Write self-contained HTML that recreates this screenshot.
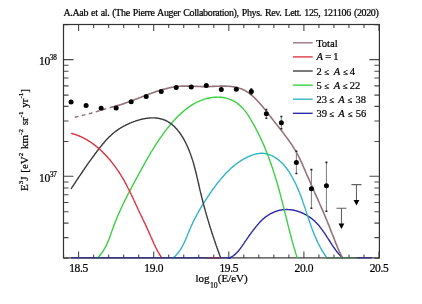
<!DOCTYPE html>
<html><head><meta charset="utf-8"><style>
html,body{margin:0;padding:0;background:#fff;width:422px;height:304px;overflow:hidden}
svg{display:block;font-family:"Liberation Serif",serif;fill:#000;will-change:transform}
text{stroke:#000;stroke-width:0.22px}
</style></head><body>
<svg width="422" height="304" viewBox="0 0 422 304">
<defs><clipPath id="c"><rect x="63.5" y="24.5" width="315.9" height="234.39999999999998"/></clipPath></defs>
<path d="M78.60,257.9 V251.40 M78.60,24.5 V31.00 M93.62,257.9 V254.40 M93.62,24.5 V28.00 M108.64,257.9 V254.40 M108.64,24.5 V28.00 M123.66,257.9 V254.40 M123.66,24.5 V28.00 M138.68,257.9 V254.40 M138.68,24.5 V28.00 M153.70,257.9 V251.40 M153.70,24.5 V31.00 M168.72,257.9 V254.40 M168.72,24.5 V28.00 M183.74,257.9 V254.40 M183.74,24.5 V28.00 M198.76,257.9 V254.40 M198.76,24.5 V28.00 M213.78,257.9 V254.40 M213.78,24.5 V28.00 M228.80,257.9 V251.40 M228.80,24.5 V31.00 M243.82,257.9 V254.40 M243.82,24.5 V28.00 M258.84,257.9 V254.40 M258.84,24.5 V28.00 M273.86,257.9 V254.40 M273.86,24.5 V28.00 M288.88,257.9 V254.40 M288.88,24.5 V28.00 M303.90,257.9 V251.40 M303.90,24.5 V31.00 M318.92,257.9 V254.40 M318.92,24.5 V28.00 M333.94,257.9 V254.40 M333.94,24.5 V28.00 M348.96,257.9 V254.40 M348.96,24.5 V28.00 M363.98,257.9 V254.40 M363.98,24.5 V28.00 M379.00,257.9 V251.40 M379.00,24.5 V31.00 M63.58,257.9 V254.40 M63.58,24.5 V28.00 M63.5,258.22 H68.5 M379.4,258.22 H374.4 M63.5,237.67 H68.5 M379.4,237.67 H374.4 M63.5,223.09 H68.5 M379.4,223.09 H374.4 M63.5,211.78 H68.5 M379.4,211.78 H374.4 M63.5,202.54 H68.5 M379.4,202.54 H374.4 M63.5,194.73 H68.5 M379.4,194.73 H374.4 M63.5,187.96 H68.5 M379.4,187.96 H374.4 M63.5,181.99 H68.5 M379.4,181.99 H374.4 M63.5,176.30 H73.5 M379.4,176.30 H369.4 M63.5,141.52 H68.5 M379.4,141.52 H374.4 M63.5,120.97 H68.5 M379.4,120.97 H374.4 M63.5,106.39 H68.5 M379.4,106.39 H374.4 M63.5,95.08 H68.5 M379.4,95.08 H374.4 M63.5,85.84 H68.5 M379.4,85.84 H374.4 M63.5,78.03 H68.5 M379.4,78.03 H374.4 M63.5,71.26 H68.5 M379.4,71.26 H374.4 M63.5,65.29 H68.5 M379.4,65.29 H374.4 M63.5,59.60 H73.5 M379.4,59.60 H369.4 M63.5,24.82 H68.5 M379.4,24.82 H374.4" stroke="#4a4a4a" stroke-width="1.1" fill="none"/>
<rect x="63.5" y="24.5" width="315.9" height="233.39999999999998" fill="none" stroke="#333333" stroke-width="1.2"/>
<path d="M228.2,258.2 L228.6,258.2 L228.9,258.1 L229.3,258.0 L229.7,257.8 L230.0,257.7 L230.4,257.5 L230.7,257.3 L231.0,257.2 L231.4,257.0 L231.7,256.8 L232.0,256.6 L232.3,256.4 L232.7,256.2 L233.0,256.0 L233.3,255.8 L233.6,255.6 L233.9,255.3 L234.2,255.1 L234.5,254.9 L234.8,254.6 L235.0,254.4 L235.3,254.1 L235.6,253.9 L235.9,253.6 L236.2,253.3 L236.4,253.1 L236.7,252.8 L237.0,252.5 L237.2,252.2 L237.5,252.0 L237.7,251.7 L238.0,251.4 L238.3,251.1 L238.5,250.8 L238.8,250.5 L239.0,250.2 L239.2,249.9 L239.5,249.6 L239.7,249.3 L240.0,248.9 L240.2,248.6 L240.4,248.3 L240.7,248.0 L240.9,247.7 L241.1,247.3 L241.4,247.0 L241.6,246.7 L241.8,246.4 L242.1,246.0 L242.3,245.7 L242.5,245.4 L242.7,245.0 L243.0,244.7 L243.2,244.4 L243.4,244.1 L243.6,243.7 L243.9,243.4 L244.1,243.1 L244.3,242.7 L244.5,242.4 L244.8,242.1 L245.0,241.7 L245.2,241.4 L245.4,241.1 L245.7,240.7 L245.9,240.4 L246.1,240.1 L246.3,239.8 L246.6,239.4 L246.8,239.1 L247.0,238.8 L247.2,238.5 L247.5,238.1 L247.7,237.8 L247.9,237.5 L248.1,237.2 L248.4,236.8 L248.6,236.5 L248.8,236.2 L249.0,235.9 L249.3,235.6 L249.5,235.2 L249.7,234.9 L250.0,234.6 L250.2,234.3 L250.4,234.0 L250.6,233.7 L250.9,233.3 L251.1,233.0 L251.3,232.7 L251.6,232.4 L251.8,232.1 L252.0,231.8 L252.3,231.5 L252.5,231.1 L252.7,230.8 L253.0,230.5 L253.2,230.2 L253.4,229.9 L253.7,229.6 L253.9,229.3 L254.2,229.0 L254.4,228.7 L254.6,228.4 L254.9,228.1 L255.1,227.8 L255.4,227.5 L255.6,227.2 L255.8,226.9 L256.1,226.6 L256.3,226.3 L256.6,226.0 L256.8,225.7 L257.1,225.4 L257.3,225.1 L257.6,224.8 L257.8,224.5 L258.1,224.2 L258.3,223.9 L258.6,223.6 L258.8,223.3 L259.1,223.0 L259.4,222.7 L259.6,222.4 L259.9,222.2 L260.1,221.9 L260.4,221.6 L260.7,221.3 L261.0,221.1 L261.2,220.8 L261.5,220.5 L261.8,220.2 L262.1,220.0 L262.3,219.7 L262.6,219.4 L262.9,219.2 L263.2,218.9 L263.5,218.7 L263.8,218.4 L264.1,218.2 L264.4,217.9 L264.7,217.7 L265.0,217.4 L265.3,217.2 L265.6,216.9 L265.9,216.7 L266.3,216.5 L266.6,216.2 L266.9,216.0 L267.2,215.8 L267.6,215.6 L267.9,215.4 L268.2,215.1 L268.6,214.9 L268.9,214.7 L269.2,214.5 L269.6,214.3 L269.9,214.1 L270.3,213.9 L270.6,213.7 L271.0,213.5 L271.3,213.4 L271.7,213.2 L272.0,213.0 L272.4,212.8 L272.8,212.7 L273.1,212.5 L273.5,212.3 L273.8,212.2 L274.2,212.0 L274.6,211.9 L274.9,211.7 L275.3,211.6 L275.7,211.4 L276.1,211.3 L276.4,211.2 L276.8,211.1 L277.2,210.9 L277.6,210.8 L277.9,210.7 L278.3,210.6 L278.7,210.5 L279.1,210.4 L279.5,210.3 L279.9,210.2 L280.2,210.2 L280.6,210.1 L281.0,210.0 L281.4,210.0 L281.8,209.9 L282.2,209.8 L282.6,209.8 L282.9,209.7 L283.3,209.7 L283.7,209.7 L284.1,209.6 L284.5,209.6 L284.9,209.6 L285.3,209.6 L285.7,209.5 L286.0,209.5 L286.4,209.5 L286.8,209.5 L287.2,209.5 L287.6,209.5 L288.0,209.6 L288.4,209.6 L288.8,209.6 L289.2,209.6 L289.5,209.6 L289.9,209.7 L290.3,209.7 L290.7,209.8 L291.1,209.8 L291.5,209.9 L291.9,209.9 L292.3,210.0 L292.6,210.0 L293.0,210.1 L293.4,210.2 L293.8,210.3 L294.2,210.3 L294.6,210.4 L295.0,210.5 L295.3,210.6 L295.7,210.7 L296.1,210.8 L296.5,210.9 L296.9,211.0 L297.2,211.1 L297.6,211.2 L298.0,211.4 L298.4,211.5 L298.7,211.6 L299.1,211.7 L299.5,211.9 L299.9,212.0 L300.2,212.1 L300.6,212.3 L301.0,212.4 L301.3,212.6 L301.7,212.7 L302.1,212.9 L302.4,213.1 L302.8,213.2 L303.2,213.4 L303.5,213.6 L303.9,213.7 L304.2,213.9 L304.6,214.1 L304.9,214.3 L305.3,214.5 L305.6,214.7 L306.0,214.8 L306.3,215.0 L306.7,215.2 L307.0,215.4 L307.4,215.7 L307.7,215.9 L308.0,216.1 L308.4,216.3 L308.7,216.5 L309.1,216.7 L309.4,216.9 L309.7,217.2 L310.0,217.4 L310.4,217.6 L310.7,217.9 L311.0,218.1 L311.3,218.3 L311.6,218.6 L312.0,218.8 L312.3,219.1 L312.6,219.3 L312.9,219.6 L313.2,219.8 L313.5,220.1 L313.8,220.4 L314.1,220.6 L314.4,220.9 L314.7,221.2 L315.0,221.4 L315.2,221.7 L315.5,222.0 L315.8,222.3 L316.1,222.5 L316.4,222.8 L316.6,223.1 L316.9,223.4 L317.2,223.7 L317.5,224.0 L317.7,224.3 L318.0,224.6 L318.2,224.8 L318.5,225.1 L318.8,225.4 L319.0,225.7 L319.3,226.0 L319.5,226.4 L319.8,226.7 L320.0,227.0 L320.3,227.3 L320.5,227.6 L320.8,227.9 L321.0,228.2 L321.2,228.5 L321.5,228.8 L321.7,229.2 L322.0,229.5 L322.2,229.8 L322.4,230.1 L322.7,230.5 L322.9,230.8 L323.1,231.1 L323.3,231.4 L323.6,231.8 L323.8,232.1 L324.0,232.4 L324.2,232.7 L324.5,233.1 L324.7,233.4 L324.9,233.7 L325.1,234.1 L325.4,234.4 L325.6,234.7 L325.8,235.1 L326.0,235.4 L326.2,235.7 L326.4,236.1 L326.7,236.4 L326.9,236.8 L327.1,237.1 L327.3,237.4 L327.5,237.8 L327.7,238.1 L328.0,238.4 L328.2,238.8 L328.4,239.1 L328.6,239.5 L328.8,239.8 L329.0,240.1 L329.2,240.5 L329.4,240.8 L329.7,241.1 L329.9,241.5 L330.1,241.8 L330.3,242.2 L330.5,242.5 L330.7,242.8 L330.9,243.2 L331.2,243.5 L331.4,243.8 L331.6,244.2 L331.8,244.5 L332.0,244.8 L332.3,245.2 L332.5,245.5 L332.7,245.8 L332.9,246.1 L333.1,246.5 L333.4,246.8 L333.6,247.1 L333.8,247.5 L334.0,247.8 L334.3,248.1 L334.5,248.4 L334.7,248.7 L334.9,249.1 L335.2,249.4 L335.4,249.7 L335.6,250.0 L335.9,250.3 L336.1,250.6 L336.3,251.0 L336.6,251.3 L336.8,251.6 L337.1,251.9 L337.3,252.2 L337.5,252.5 L337.8,252.8 L338.0,253.1 L338.3,253.4 L338.5,253.7 L338.8,254.0 L339.1,254.3 L339.3,254.6 L339.6,254.9 L339.8,255.2 L340.1,255.4 L340.4,255.7 L340.6,256.0 L340.9,256.3 L341.2,256.6 L341.4,256.8 L341.7,257.1 L342.0,257.4 L342.3,257.6 L342.6,257.9 L342.9,258.2" fill="none" stroke="#2c2ca8" stroke-width="1.4" stroke-linejoin="round"/>
<path d="M172.3,258.2 L172.9,258.0 L173.4,257.6 L173.9,257.2 L174.4,256.8 L174.9,256.4 L175.3,255.9 L175.8,255.5 L176.2,255.0 L176.7,254.5 L177.1,254.0 L177.5,253.5 L178.0,253.0 L178.4,252.5 L178.8,252.0 L179.1,251.4 L179.5,250.9 L179.9,250.4 L180.3,249.8 L180.6,249.2 L181.0,248.7 L181.3,248.1 L181.7,247.5 L182.0,246.9 L182.3,246.3 L182.6,245.7 L183.0,245.1 L183.3,244.5 L183.6,243.9 L183.9,243.3 L184.2,242.6 L184.5,242.0 L184.7,241.4 L185.0,240.7 L185.3,240.1 L185.6,239.5 L185.9,238.8 L186.1,238.2 L186.4,237.5 L186.7,236.9 L187.0,236.2 L187.2,235.6 L187.5,234.9 L187.8,234.3 L188.0,233.6 L188.3,233.0 L188.6,232.3 L188.8,231.7 L189.1,231.0 L189.4,230.4 L189.6,229.7 L189.9,229.1 L190.2,228.5 L190.5,227.8 L190.7,227.2 L191.0,226.6 L191.3,225.9 L191.6,225.3 L191.9,224.7 L192.2,224.1 L192.5,223.5 L192.7,222.8 L193.0,222.2 L193.3,221.6 L193.6,221.0 L193.9,220.4 L194.2,219.8 L194.5,219.2 L194.8,218.6 L195.2,218.0 L195.5,217.4 L195.8,216.8 L196.1,216.2 L196.4,215.6 L196.7,215.0 L197.0,214.4 L197.4,213.8 L197.7,213.3 L198.0,212.7 L198.3,212.1 L198.7,211.5 L199.0,210.9 L199.3,210.3 L199.7,209.8 L200.0,209.2 L200.3,208.6 L200.7,208.0 L201.0,207.5 L201.4,206.9 L201.7,206.3 L202.0,205.7 L202.4,205.2 L202.7,204.6 L203.1,204.0 L203.5,203.5 L203.8,202.9 L204.2,202.3 L204.5,201.8 L204.9,201.2 L205.3,200.6 L205.6,200.1 L206.0,199.5 L206.4,198.9 L206.7,198.4 L207.1,197.8 L207.5,197.2 L207.9,196.7 L208.2,196.1 L208.6,195.5 L209.0,195.0 L209.4,194.4 L209.8,193.8 L210.2,193.3 L210.5,192.7 L210.9,192.1 L211.3,191.6 L211.7,191.0 L212.1,190.4 L212.5,189.9 L212.9,189.3 L213.3,188.7 L213.7,188.2 L214.2,187.6 L214.6,187.0 L215.0,186.5 L215.4,185.9 L215.8,185.4 L216.2,184.8 L216.6,184.3 L217.1,183.7 L217.5,183.2 L217.9,182.6 L218.4,182.1 L218.8,181.5 L219.2,181.0 L219.7,180.4 L220.1,179.9 L220.6,179.4 L221.0,178.8 L221.5,178.3 L221.9,177.8 L222.4,177.2 L222.8,176.7 L223.3,176.2 L223.7,175.7 L224.2,175.2 L224.7,174.6 L225.2,174.1 L225.6,173.6 L226.1,173.1 L226.6,172.6 L227.1,172.1 L227.6,171.6 L228.0,171.1 L228.5,170.7 L229.0,170.2 L229.5,169.7 L230.0,169.2 L230.5,168.8 L231.0,168.3 L231.6,167.8 L232.1,167.4 L232.6,166.9 L233.1,166.5 L233.6,166.1 L234.2,165.6 L234.7,165.2 L235.2,164.8 L235.8,164.3 L236.3,163.9 L236.8,163.5 L237.4,163.1 L237.9,162.7 L238.5,162.3 L239.1,161.9 L239.6,161.6 L240.2,161.2 L240.8,160.8 L241.3,160.4 L241.9,160.1 L242.5,159.7 L243.1,159.4 L243.7,159.1 L244.3,158.7 L244.9,158.4 L245.5,158.1 L246.1,157.8 L246.7,157.5 L247.3,157.2 L247.9,156.9 L248.5,156.6 L249.1,156.3 L249.8,156.0 L250.4,155.8 L251.0,155.5 L251.7,155.3 L252.3,155.1 L252.9,154.8 L253.6,154.6 L254.2,154.4 L254.9,154.3 L255.5,154.1 L256.2,153.9 L256.8,153.8 L257.5,153.7 L258.1,153.6 L258.8,153.5 L259.5,153.4 L260.1,153.4 L260.8,153.3 L261.4,153.3 L262.1,153.3 L262.7,153.3 L263.4,153.4 L264.0,153.4 L264.7,153.5 L265.3,153.6 L266.0,153.7 L266.6,153.9 L267.3,154.0 L267.9,154.2 L268.5,154.4 L269.2,154.6 L269.8,154.9 L270.4,155.1 L271.1,155.4 L271.7,155.6 L272.3,155.9 L272.9,156.2 L273.5,156.6 L274.1,156.9 L274.6,157.2 L275.2,157.6 L275.8,158.0 L276.4,158.3 L276.9,158.7 L277.5,159.1 L278.0,159.5 L278.5,159.9 L279.1,160.4 L279.6,160.8 L280.1,161.3 L280.6,161.7 L281.1,162.2 L281.6,162.6 L282.1,163.1 L282.5,163.6 L283.0,164.1 L283.5,164.6 L283.9,165.1 L284.4,165.6 L284.8,166.2 L285.3,166.7 L285.7,167.2 L286.1,167.8 L286.6,168.3 L287.0,168.9 L287.4,169.5 L287.8,170.0 L288.2,170.6 L288.6,171.2 L289.0,171.7 L289.4,172.3 L289.8,172.9 L290.1,173.5 L290.5,174.1 L290.9,174.7 L291.2,175.3 L291.6,175.9 L291.9,176.5 L292.3,177.2 L292.6,177.8 L292.9,178.4 L293.3,179.0 L293.6,179.6 L293.9,180.3 L294.2,180.9 L294.6,181.5 L294.9,182.1 L295.2,182.8 L295.5,183.4 L295.8,184.0 L296.1,184.7 L296.4,185.3 L296.6,185.9 L296.9,186.6 L297.2,187.2 L297.5,187.8 L297.8,188.5 L298.0,189.1 L298.3,189.7 L298.6,190.4 L298.8,191.0 L299.1,191.6 L299.3,192.3 L299.6,192.9 L299.9,193.5 L300.1,194.2 L300.3,194.8 L300.6,195.5 L300.8,196.1 L301.1,196.7 L301.3,197.4 L301.5,198.0 L301.8,198.7 L302.0,199.3 L302.2,199.9 L302.5,200.6 L302.7,201.2 L302.9,201.9 L303.1,202.5 L303.4,203.1 L303.6,203.8 L303.8,204.4 L304.0,205.1 L304.2,205.7 L304.5,206.4 L304.7,207.0 L304.9,207.6 L305.1,208.3 L305.3,208.9 L305.5,209.6 L305.7,210.2 L305.9,210.8 L306.2,211.5 L306.4,212.1 L306.6,212.8 L306.8,213.4 L307.0,214.1 L307.2,214.7 L307.4,215.3 L307.6,216.0 L307.8,216.6 L308.1,217.3 L308.3,217.9 L308.5,218.5 L308.7,219.2 L308.9,219.8 L309.1,220.5 L309.3,221.1 L309.6,221.7 L309.8,222.4 L310.0,223.0 L310.2,223.6 L310.4,224.3 L310.7,224.9 L310.9,225.6 L311.1,226.2 L311.3,226.8 L311.6,227.5 L311.8,228.1 L312.0,228.7 L312.3,229.4 L312.5,230.0 L312.8,230.6 L313.0,231.2 L313.2,231.9 L313.5,232.5 L313.7,233.1 L314.0,233.8 L314.2,234.4 L314.5,235.0 L314.8,235.6 L315.0,236.3 L315.3,236.9 L315.6,237.5 L315.8,238.1 L316.1,238.8 L316.4,239.4 L316.7,240.0 L316.9,240.6 L317.2,241.2 L317.5,241.8 L317.8,242.5 L318.1,243.1 L318.4,243.7 L318.7,244.3 L319.0,244.9 L319.4,245.5 L319.7,246.1 L320.0,246.7 L320.3,247.3 L320.7,248.0 L321.0,248.6 L321.3,249.2 L321.7,249.8 L322.0,250.4 L322.4,251.0 L322.8,251.6 L323.1,252.2 L323.5,252.8 L323.9,253.4 L324.2,254.0 L324.6,254.5 L325.0,255.1 L325.4,255.7 L325.8,256.3 L326.2,256.9 L326.6,257.5 L327.1,258.1" fill="none" stroke="#30b4c4" stroke-width="1.4" stroke-linejoin="round"/>
<path d="M96.3,258.2 L97.1,257.9 L97.9,257.3 L98.6,256.7 L99.3,256.0 L99.9,255.3 L100.6,254.5 L101.2,253.8 L101.8,253.0 L102.4,252.2 L102.9,251.4 L103.4,250.6 L103.9,249.7 L104.4,248.9 L104.9,248.0 L105.4,247.2 L105.8,246.3 L106.3,245.4 L106.7,244.5 L107.1,243.6 L107.5,242.7 L107.9,241.8 L108.3,240.9 L108.7,239.9 L109.0,239.0 L109.4,238.1 L109.8,237.1 L110.1,236.2 L110.5,235.2 L110.8,234.3 L111.1,233.3 L111.5,232.3 L111.8,231.4 L112.1,230.4 L112.5,229.5 L112.8,228.5 L113.2,227.5 L113.5,226.6 L113.9,225.6 L114.2,224.7 L114.6,223.7 L114.9,222.8 L115.3,221.9 L115.7,220.9 L116.0,220.0 L116.4,219.1 L116.8,218.1 L117.2,217.2 L117.6,216.3 L118.0,215.3 L118.4,214.4 L118.8,213.5 L119.2,212.6 L119.6,211.7 L120.0,210.8 L120.4,209.8 L120.8,208.9 L121.2,208.0 L121.7,207.1 L122.1,206.2 L122.5,205.3 L122.9,204.4 L123.4,203.5 L123.8,202.6 L124.3,201.7 L124.7,200.8 L125.1,199.9 L125.6,199.0 L126.0,198.2 L126.5,197.3 L126.9,196.4 L127.4,195.5 L127.8,194.6 L128.3,193.7 L128.8,192.8 L129.2,191.9 L129.7,191.1 L130.1,190.2 L130.6,189.3 L131.1,188.4 L131.5,187.5 L132.0,186.7 L132.5,185.8 L133.0,184.9 L133.4,184.0 L133.9,183.1 L134.4,182.3 L134.8,181.4 L135.3,180.5 L135.8,179.6 L136.3,178.7 L136.7,177.9 L137.2,177.0 L137.7,176.1 L138.2,175.2 L138.6,174.3 L139.1,173.5 L139.6,172.6 L140.1,171.7 L140.6,170.8 L141.0,169.9 L141.5,169.1 L142.0,168.2 L142.5,167.3 L143.0,166.4 L143.5,165.6 L143.9,164.7 L144.4,163.8 L144.9,162.9 L145.4,162.1 L145.9,161.2 L146.4,160.3 L146.9,159.4 L147.4,158.6 L147.9,157.7 L148.4,156.8 L148.9,156.0 L149.4,155.1 L149.9,154.3 L150.4,153.4 L150.9,152.5 L151.4,151.7 L152.0,150.8 L152.5,150.0 L153.0,149.1 L153.5,148.3 L154.1,147.4 L154.6,146.6 L155.1,145.7 L155.7,144.9 L156.2,144.0 L156.8,143.2 L157.3,142.4 L157.9,141.5 L158.4,140.7 L159.0,139.9 L159.5,139.0 L160.1,138.2 L160.7,137.4 L161.2,136.6 L161.8,135.8 L162.4,134.9 L163.0,134.1 L163.6,133.3 L164.2,132.5 L164.8,131.7 L165.4,130.9 L166.0,130.1 L166.6,129.3 L167.2,128.6 L167.8,127.8 L168.5,127.0 L169.1,126.2 L169.7,125.4 L170.4,124.7 L171.0,123.9 L171.7,123.2 L172.3,122.4 L173.0,121.7 L173.7,120.9 L174.4,120.2 L175.0,119.4 L175.7,118.7 L176.4,118.0 L177.1,117.3 L177.8,116.5 L178.5,115.8 L179.2,115.1 L180.0,114.4 L180.7,113.7 L181.4,113.1 L182.2,112.4 L182.9,111.7 L183.7,111.1 L184.5,110.4 L185.2,109.8 L186.0,109.2 L186.8,108.6 L187.6,108.0 L188.4,107.4 L189.2,106.8 L190.0,106.2 L190.9,105.7 L191.7,105.2 L192.5,104.6 L193.4,104.1 L194.3,103.6 L195.1,103.1 L196.0,102.7 L196.9,102.2 L197.8,101.8 L198.7,101.4 L199.6,101.0 L200.6,100.6 L201.5,100.2 L202.5,99.9 L203.4,99.5 L204.4,99.2 L205.4,98.9 L206.3,98.7 L207.3,98.4 L208.3,98.2 L209.3,98.0 L210.3,97.8 L211.3,97.6 L212.3,97.5 L213.3,97.4 L214.3,97.3 L215.3,97.2 L216.3,97.2 L217.3,97.1 L218.3,97.1 L219.3,97.2 L220.3,97.2 L221.3,97.3 L222.3,97.4 L223.2,97.5 L224.2,97.7 L225.2,97.9 L226.1,98.1 L227.1,98.4 L228.0,98.6 L228.9,98.9 L229.9,99.3 L230.8,99.6 L231.7,100.0 L232.6,100.4 L233.4,100.9 L234.3,101.4 L235.1,101.9 L235.9,102.4 L236.8,102.9 L237.6,103.5 L238.3,104.1 L239.1,104.7 L239.8,105.4 L240.6,106.0 L241.3,106.7 L242.0,107.4 L242.6,108.1 L243.3,108.8 L243.9,109.6 L244.6,110.4 L245.2,111.1 L245.8,111.9 L246.4,112.7 L247.0,113.6 L247.6,114.4 L248.1,115.2 L248.7,116.1 L249.2,116.9 L249.7,117.8 L250.3,118.7 L250.8,119.5 L251.3,120.4 L251.8,121.3 L252.3,122.2 L252.8,123.0 L253.3,123.9 L253.8,124.8 L254.3,125.7 L254.8,126.6 L255.3,127.5 L255.8,128.4 L256.2,129.3 L256.7,130.2 L257.1,131.1 L257.6,131.9 L258.1,132.8 L258.5,133.8 L258.9,134.7 L259.4,135.6 L259.8,136.5 L260.3,137.4 L260.7,138.3 L261.1,139.2 L261.5,140.1 L261.9,141.0 L262.4,141.9 L262.8,142.9 L263.2,143.8 L263.6,144.7 L264.0,145.6 L264.4,146.5 L264.7,147.5 L265.1,148.4 L265.5,149.3 L265.9,150.2 L266.3,151.2 L266.6,152.1 L267.0,153.0 L267.4,154.0 L267.7,154.9 L268.1,155.8 L268.4,156.8 L268.8,157.7 L269.1,158.7 L269.5,159.6 L269.8,160.5 L270.2,161.5 L270.5,162.4 L270.8,163.4 L271.2,164.3 L271.5,165.3 L271.8,166.2 L272.2,167.2 L272.5,168.1 L272.8,169.1 L273.1,170.0 L273.4,171.0 L273.7,171.9 L274.0,172.9 L274.3,173.8 L274.6,174.8 L274.9,175.7 L275.2,176.7 L275.5,177.6 L275.8,178.6 L276.1,179.6 L276.4,180.5 L276.7,181.5 L277.0,182.4 L277.2,183.4 L277.5,184.4 L277.8,185.3 L278.1,186.3 L278.3,187.3 L278.6,188.2 L278.9,189.2 L279.2,190.2 L279.4,191.1 L279.7,192.1 L280.0,193.1 L280.2,194.0 L280.5,195.0 L280.7,196.0 L281.0,196.9 L281.2,197.9 L281.5,198.9 L281.7,199.9 L282.0,200.8 L282.2,201.8 L282.5,202.8 L282.7,203.7 L283.0,204.7 L283.2,205.7 L283.5,206.7 L283.7,207.6 L284.0,208.6 L284.2,209.6 L284.4,210.6 L284.7,211.5 L284.9,212.5 L285.2,213.5 L285.4,214.4 L285.7,215.4 L285.9,216.4 L286.1,217.4 L286.4,218.3 L286.6,219.3 L286.9,220.3 L287.1,221.3 L287.3,222.2 L287.6,223.2 L287.8,224.2 L288.1,225.2 L288.3,226.1 L288.5,227.1 L288.8,228.1 L289.0,229.0 L289.3,230.0 L289.5,231.0 L289.8,232.0 L290.0,232.9 L290.3,233.9 L290.5,234.9 L290.8,235.8 L291.1,236.8 L291.3,237.8 L291.6,238.7 L291.8,239.7 L292.1,240.7 L292.4,241.6 L292.6,242.6 L292.9,243.6 L293.2,244.5 L293.4,245.5 L293.7,246.4 L294.0,247.4 L294.3,248.4 L294.6,249.3 L294.9,250.3 L295.2,251.2 L295.4,252.2 L295.7,253.2 L296.0,254.1 L296.3,255.1 L296.6,256.0 L297.0,257.0 L297.3,257.9" fill="none" stroke="#38d040" stroke-width="1.4" stroke-linejoin="round"/>
<path d="M71.0,188.9 L71.4,188.3 L71.8,187.7 L72.1,187.2 L72.5,186.6 L72.9,186.0 L73.3,185.5 L73.7,184.9 L74.0,184.3 L74.4,183.7 L74.8,183.2 L75.2,182.6 L75.6,182.0 L75.9,181.4 L76.3,180.9 L76.7,180.3 L77.1,179.7 L77.5,179.1 L77.9,178.5 L78.3,178.0 L78.6,177.4 L79.0,176.8 L79.4,176.2 L79.8,175.6 L80.2,175.1 L80.6,174.5 L81.0,173.9 L81.4,173.3 L81.8,172.7 L82.2,172.2 L82.5,171.6 L82.9,171.0 L83.3,170.4 L83.7,169.9 L84.1,169.3 L84.5,168.7 L84.9,168.1 L85.3,167.5 L85.7,167.0 L86.1,166.4 L86.5,165.8 L86.9,165.2 L87.3,164.7 L87.7,164.1 L88.1,163.5 L88.5,162.9 L88.9,162.4 L89.3,161.8 L89.7,161.2 L90.2,160.6 L90.6,160.1 L91.0,159.5 L91.4,158.9 L91.8,158.4 L92.2,157.8 L92.6,157.2 L93.0,156.7 L93.5,156.1 L93.9,155.5 L94.3,155.0 L94.7,154.4 L95.1,153.8 L95.5,153.3 L96.0,152.7 L96.4,152.2 L96.8,151.6 L97.2,151.0 L97.7,150.5 L98.1,149.9 L98.5,149.4 L98.9,148.8 L99.4,148.3 L99.8,147.7 L100.2,147.2 L100.7,146.6 L101.1,146.1 L101.5,145.6 L102.0,145.0 L102.4,144.5 L102.8,144.0 L103.3,143.4 L103.7,142.9 L104.2,142.4 L104.6,141.8 L105.1,141.3 L105.5,140.8 L106.0,140.3 L106.5,139.8 L106.9,139.3 L107.4,138.8 L107.9,138.3 L108.4,137.8 L108.8,137.3 L109.3,136.8 L109.8,136.4 L110.3,135.9 L110.8,135.4 L111.3,135.0 L111.8,134.5 L112.3,134.1 L112.8,133.6 L113.3,133.2 L113.9,132.7 L114.4,132.3 L114.9,131.9 L115.5,131.5 L116.0,131.1 L116.6,130.7 L117.1,130.3 L117.7,129.9 L118.2,129.5 L118.8,129.1 L119.4,128.7 L120.0,128.4 L120.5,128.0 L121.1,127.6 L121.7,127.3 L122.3,126.9 L122.9,126.6 L123.5,126.3 L124.1,125.9 L124.8,125.6 L125.4,125.3 L126.0,125.0 L126.6,124.7 L127.3,124.4 L127.9,124.1 L128.5,123.8 L129.2,123.5 L129.8,123.2 L130.5,122.9 L131.2,122.7 L131.8,122.4 L132.5,122.1 L133.2,121.9 L133.8,121.6 L134.5,121.4 L135.2,121.2 L135.9,120.9 L136.5,120.7 L137.2,120.5 L137.9,120.3 L138.6,120.1 L139.3,119.9 L140.0,119.7 L140.7,119.5 L141.4,119.3 L142.1,119.2 L142.8,119.0 L143.5,118.9 L144.2,118.7 L144.9,118.6 L145.6,118.5 L146.3,118.4 L147.0,118.3 L147.7,118.2 L148.4,118.1 L149.1,118.0 L149.8,118.0 L150.5,117.9 L151.2,117.9 L151.9,117.9 L152.6,117.9 L153.3,117.9 L153.9,117.9 L154.6,117.9 L155.3,118.0 L156.0,118.0 L156.7,118.1 L157.3,118.2 L158.0,118.3 L158.7,118.4 L159.3,118.5 L160.0,118.7 L160.6,118.8 L161.3,119.0 L161.9,119.1 L162.6,119.3 L163.2,119.5 L163.8,119.8 L164.4,120.0 L165.0,120.2 L165.6,120.5 L166.2,120.8 L166.8,121.1 L167.4,121.4 L168.0,121.7 L168.5,122.1 L169.1,122.4 L169.6,122.8 L170.2,123.1 L170.7,123.5 L171.2,123.9 L171.8,124.3 L172.3,124.8 L172.8,125.2 L173.3,125.6 L173.8,126.1 L174.3,126.5 L174.8,127.0 L175.3,127.5 L175.7,128.0 L176.2,128.5 L176.7,129.0 L177.1,129.5 L177.6,130.1 L178.0,130.6 L178.4,131.2 L178.9,131.7 L179.3,132.3 L179.7,132.8 L180.1,133.4 L180.5,134.0 L180.9,134.6 L181.3,135.2 L181.7,135.8 L182.1,136.4 L182.5,137.0 L182.9,137.6 L183.2,138.2 L183.6,138.9 L183.9,139.5 L184.3,140.1 L184.6,140.8 L185.0,141.4 L185.3,142.0 L185.6,142.7 L186.0,143.3 L186.3,144.0 L186.6,144.6 L186.9,145.3 L187.2,145.9 L187.5,146.6 L187.8,147.3 L188.1,147.9 L188.3,148.6 L188.6,149.2 L188.9,149.9 L189.2,150.5 L189.4,151.2 L189.7,151.9 L189.9,152.5 L190.2,153.2 L190.4,153.8 L190.7,154.5 L190.9,155.2 L191.1,155.8 L191.4,156.5 L191.6,157.2 L191.8,157.8 L192.0,158.5 L192.2,159.2 L192.5,159.8 L192.7,160.5 L192.9,161.1 L193.1,161.8 L193.3,162.5 L193.5,163.1 L193.7,163.8 L193.8,164.5 L194.0,165.2 L194.2,165.8 L194.4,166.5 L194.6,167.2 L194.8,167.8 L194.9,168.5 L195.1,169.2 L195.3,169.8 L195.4,170.5 L195.6,171.2 L195.8,171.9 L195.9,172.5 L196.1,173.2 L196.3,173.9 L196.4,174.5 L196.6,175.2 L196.8,175.9 L196.9,176.6 L197.1,177.2 L197.2,177.9 L197.4,178.6 L197.5,179.3 L197.7,179.9 L197.8,180.6 L198.0,181.3 L198.1,181.9 L198.3,182.6 L198.5,183.3 L198.6,184.0 L198.8,184.6 L198.9,185.3 L199.1,186.0 L199.2,186.7 L199.4,187.3 L199.5,188.0 L199.7,188.7 L199.8,189.4 L200.0,190.0 L200.2,190.7 L200.3,191.4 L200.5,192.1 L200.6,192.7 L200.8,193.4 L201.0,194.1 L201.1,194.8 L201.3,195.4 L201.5,196.1 L201.6,196.8 L201.8,197.5 L202.0,198.1 L202.1,198.8 L202.3,199.5 L202.5,200.2 L202.6,200.8 L202.8,201.5 L203.0,202.2 L203.2,202.9 L203.4,203.5 L203.5,204.2 L203.7,204.9 L203.9,205.5 L204.1,206.2 L204.3,206.9 L204.4,207.6 L204.6,208.2 L204.8,208.9 L205.0,209.6 L205.2,210.3 L205.4,210.9 L205.5,211.6 L205.7,212.3 L205.9,212.9 L206.1,213.6 L206.3,214.3 L206.5,215.0 L206.7,215.6 L206.9,216.3 L207.1,217.0 L207.3,217.6 L207.5,218.3 L207.7,219.0 L207.9,219.6 L208.1,220.3 L208.3,221.0 L208.5,221.6 L208.7,222.3 L208.9,223.0 L209.1,223.7 L209.3,224.3 L209.5,225.0 L209.7,225.7 L209.9,226.3 L210.1,227.0 L210.3,227.7 L210.5,228.3 L210.7,229.0 L211.0,229.7 L211.2,230.3 L211.4,231.0 L211.6,231.6 L211.8,232.3 L212.0,233.0 L212.2,233.6 L212.5,234.3 L212.7,235.0 L212.9,235.6 L213.1,236.3 L213.3,237.0 L213.5,237.6 L213.8,238.3 L214.0,238.9 L214.2,239.6 L214.4,240.3 L214.7,240.9 L214.9,241.6 L215.1,242.2 L215.3,242.9 L215.6,243.5 L215.8,244.2 L216.0,244.9 L216.2,245.5 L216.5,246.2 L216.7,246.8 L216.9,247.5 L217.2,248.1 L217.4,248.8 L217.6,249.5 L217.8,250.1 L218.1,250.8 L218.3,251.4 L218.6,252.1 L218.8,252.7 L219.0,253.4 L219.3,254.0 L219.5,254.7 L219.7,255.3 L220.0,256.0 L220.2,256.6 L220.4,257.3 L220.7,257.9" fill="none" stroke="#3a3a3a" stroke-width="1.4" stroke-linejoin="round"/>
<path d="M71.2,133.3 L71.6,133.4 L71.9,133.5 L72.3,133.7 L72.7,133.8 L73.1,133.9 L73.5,134.0 L73.9,134.1 L74.3,134.2 L74.7,134.3 L75.1,134.5 L75.5,134.6 L75.8,134.7 L76.2,134.9 L76.6,135.0 L77.0,135.1 L77.4,135.3 L77.7,135.4 L78.1,135.6 L78.5,135.7 L78.9,135.9 L79.2,136.0 L79.6,136.2 L80.0,136.3 L80.3,136.5 L80.7,136.6 L81.1,136.8 L81.4,137.0 L81.8,137.1 L82.2,137.3 L82.5,137.5 L82.9,137.7 L83.2,137.8 L83.6,138.0 L83.9,138.2 L84.3,138.4 L84.7,138.6 L85.0,138.8 L85.4,139.0 L85.7,139.2 L86.0,139.3 L86.4,139.5 L86.7,139.7 L87.1,139.9 L87.4,140.1 L87.8,140.4 L88.1,140.6 L88.4,140.8 L88.8,141.0 L89.1,141.2 L89.5,141.4 L89.8,141.6 L90.1,141.8 L90.5,142.1 L90.8,142.3 L91.1,142.5 L91.4,142.7 L91.8,143.0 L92.1,143.2 L92.4,143.4 L92.7,143.7 L93.1,143.9 L93.4,144.1 L93.7,144.4 L94.0,144.6 L94.3,144.9 L94.7,145.1 L95.0,145.3 L95.3,145.6 L95.6,145.8 L95.9,146.1 L96.2,146.3 L96.5,146.6 L96.8,146.8 L97.2,147.1 L97.5,147.4 L97.8,147.6 L98.1,147.9 L98.4,148.1 L98.7,148.4 L99.0,148.7 L99.3,148.9 L99.6,149.2 L99.9,149.5 L100.2,149.7 L100.5,150.0 L100.8,150.3 L101.0,150.5 L101.3,150.8 L101.6,151.1 L101.9,151.4 L102.2,151.6 L102.5,151.9 L102.8,152.2 L103.1,152.5 L103.3,152.8 L103.6,153.1 L103.9,153.3 L104.2,153.6 L104.5,153.9 L104.7,154.2 L105.0,154.5 L105.3,154.8 L105.6,155.1 L105.8,155.4 L106.1,155.6 L106.4,155.9 L106.7,156.2 L106.9,156.5 L107.2,156.8 L107.5,157.1 L107.7,157.4 L108.0,157.7 L108.3,158.0 L108.5,158.3 L108.8,158.6 L109.0,158.9 L109.3,159.2 L109.6,159.5 L109.8,159.8 L110.1,160.1 L110.3,160.5 L110.6,160.8 L110.8,161.1 L111.1,161.4 L111.4,161.7 L111.6,162.0 L111.9,162.3 L112.1,162.6 L112.3,162.9 L112.6,163.2 L112.8,163.6 L113.1,163.9 L113.3,164.2 L113.6,164.5 L113.8,164.8 L114.1,165.2 L114.3,165.5 L114.5,165.8 L114.8,166.1 L115.0,166.4 L115.2,166.8 L115.5,167.1 L115.7,167.4 L115.9,167.7 L116.2,168.1 L116.4,168.4 L116.6,168.7 L116.9,169.0 L117.1,169.4 L117.3,169.7 L117.5,170.0 L117.8,170.3 L118.0,170.7 L118.2,171.0 L118.4,171.3 L118.7,171.7 L118.9,172.0 L119.1,172.3 L119.3,172.7 L119.5,173.0 L119.7,173.3 L120.0,173.7 L120.2,174.0 L120.4,174.4 L120.6,174.7 L120.8,175.0 L121.0,175.4 L121.2,175.7 L121.4,176.1 L121.6,176.4 L121.9,176.7 L122.1,177.1 L122.3,177.4 L122.5,177.8 L122.7,178.1 L122.9,178.5 L123.1,178.8 L123.3,179.1 L123.5,179.5 L123.7,179.8 L123.9,180.2 L124.1,180.5 L124.3,180.9 L124.5,181.2 L124.7,181.6 L124.8,181.9 L125.0,182.3 L125.2,182.6 L125.4,183.0 L125.6,183.3 L125.8,183.7 L126.0,184.0 L126.2,184.4 L126.4,184.7 L126.5,185.1 L126.7,185.4 L126.9,185.8 L127.1,186.1 L127.3,186.5 L127.5,186.8 L127.6,187.2 L127.8,187.6 L128.0,187.9 L128.2,188.3 L128.4,188.6 L128.5,189.0 L128.7,189.3 L128.9,189.7 L129.1,190.0 L129.3,190.4 L129.4,190.8 L129.6,191.1 L129.8,191.5 L130.0,191.8 L130.1,192.2 L130.3,192.6 L130.5,192.9 L130.6,193.3 L130.8,193.6 L131.0,194.0 L131.2,194.4 L131.3,194.7 L131.5,195.1 L131.7,195.4 L131.8,195.8 L132.0,196.2 L132.2,196.5 L132.4,196.9 L132.5,197.2 L132.7,197.6 L132.9,198.0 L133.0,198.3 L133.2,198.7 L133.4,199.0 L133.5,199.4 L133.7,199.8 L133.9,200.1 L134.0,200.5 L134.2,200.9 L134.4,201.2 L134.5,201.6 L134.7,201.9 L134.9,202.3 L135.0,202.7 L135.2,203.0 L135.4,203.4 L135.5,203.7 L135.7,204.1 L135.9,204.5 L136.1,204.8 L136.2,205.2 L136.4,205.6 L136.6,205.9 L136.7,206.3 L136.9,206.6 L137.1,207.0 L137.2,207.4 L137.4,207.7 L137.6,208.1 L137.7,208.5 L137.9,208.8 L138.1,209.2 L138.2,209.5 L138.4,209.9 L138.6,210.3 L138.8,210.6 L138.9,211.0 L139.1,211.3 L139.3,211.7 L139.4,212.1 L139.6,212.4 L139.8,212.8 L140.0,213.2 L140.1,213.5 L140.3,213.9 L140.5,214.2 L140.6,214.6 L140.8,215.0 L141.0,215.3 L141.2,215.7 L141.3,216.0 L141.5,216.4 L141.7,216.8 L141.8,217.1 L142.0,217.5 L142.2,217.9 L142.4,218.2 L142.5,218.6 L142.7,218.9 L142.9,219.3 L143.1,219.7 L143.2,220.0 L143.4,220.4 L143.6,220.7 L143.7,221.1 L143.9,221.5 L144.1,221.8 L144.3,222.2 L144.4,222.6 L144.6,222.9 L144.8,223.3 L144.9,223.6 L145.1,224.0 L145.3,224.4 L145.5,224.7 L145.6,225.1 L145.8,225.5 L146.0,225.8 L146.1,226.2 L146.3,226.5 L146.5,226.9 L146.6,227.3 L146.8,227.6 L147.0,228.0 L147.1,228.4 L147.3,228.7 L147.5,229.1 L147.6,229.5 L147.8,229.8 L148.0,230.2 L148.1,230.6 L148.3,230.9 L148.5,231.3 L148.6,231.7 L148.8,232.0 L149.0,232.4 L149.1,232.8 L149.3,233.1 L149.5,233.5 L149.6,233.9 L149.8,234.2 L149.9,234.6 L150.1,235.0 L150.3,235.3 L150.4,235.7 L150.6,236.1 L150.8,236.4 L150.9,236.8 L151.1,237.2 L151.2,237.5 L151.4,237.9 L151.6,238.3 L151.7,238.6 L151.9,239.0 L152.0,239.4 L152.2,239.7 L152.4,240.1 L152.5,240.5 L152.7,240.8 L152.9,241.2 L153.0,241.6 L153.2,241.9 L153.4,242.3 L153.5,242.7 L153.7,243.0 L153.8,243.4 L154.0,243.8 L154.2,244.1 L154.3,244.5 L154.5,244.9 L154.7,245.2 L154.9,245.6 L155.0,245.9 L155.2,246.3 L155.4,246.7 L155.5,247.0 L155.7,247.4 L155.9,247.7 L156.1,248.1 L156.2,248.4 L156.4,248.8 L156.6,249.2 L156.8,249.5 L157.0,249.9 L157.2,250.2 L157.3,250.6 L157.5,250.9 L157.7,251.3 L157.9,251.6 L158.1,251.9 L158.3,252.3 L158.5,252.6 L158.7,253.0 L158.9,253.3 L159.1,253.7 L159.3,254.0 L159.5,254.3 L159.7,254.7 L159.9,255.0 L160.1,255.3 L160.3,255.7 L160.5,256.0 L160.7,256.3 L160.9,256.7 L161.2,257.0 L161.4,257.3 L161.6,257.6 L161.8,258.0 L162.0,258.2" fill="none" stroke="#dc3440" stroke-width="1.4" stroke-linejoin="round"/>
<path d="M110.8,107.3 L111.7,107.1 L112.5,106.9 L113.3,106.7 L114.1,106.5 L114.9,106.3 L115.7,106.1 L116.5,105.8 L117.3,105.6 L118.1,105.4 L118.9,105.2 L119.7,104.9 L120.5,104.7 L121.3,104.4 L122.1,104.2 L122.9,103.9 L123.7,103.6 L124.5,103.4 L125.3,103.1 L126.1,102.8 L126.9,102.5 L127.7,102.2 L128.5,102.0 L129.3,101.7 L130.1,101.4 L130.9,101.1 L131.6,100.8 L132.4,100.5 L133.2,100.2 L134.0,99.9 L134.8,99.6 L135.6,99.3 L136.4,99.0 L137.2,98.7 L137.9,98.4 L138.7,98.1 L139.5,97.8 L140.3,97.5 L141.1,97.2 L141.9,96.8 L142.7,96.5 L143.4,96.2 L144.2,95.9 L145.0,95.6 L145.8,95.3 L146.6,95.0 L147.4,94.7 L148.2,94.4 L149.0,94.1 L149.7,93.8 L150.5,93.6 L151.3,93.3 L152.1,93.0 L152.9,92.7 L153.7,92.4 L154.5,92.1 L155.3,91.9 L156.0,91.6 L156.8,91.3 L157.6,91.1 L158.4,90.8 L159.2,90.6 L160.0,90.3 L160.8,90.1 L161.6,89.9 L162.4,89.6 L163.2,89.4 L164.0,89.2 L164.8,89.0 L165.6,88.8 L166.4,88.6 L167.2,88.4 L168.0,88.2 L168.8,88.0 L169.6,87.8 L170.4,87.6 L171.2,87.5 L172.0,87.3 L172.8,87.2 L173.6,87.0 L174.5,86.9 L175.3,86.8 L176.1,86.7 L176.9,86.6 L177.7,86.5 L178.5,86.4 L179.4,86.3 L180.2,86.3 L181.0,86.2 L181.8,86.1 L182.7,86.1 L183.5,86.1 L184.3,86.1 L185.2,86.1 L186.0,86.0 L186.8,86.1 L187.7,86.1 L188.5,86.1 L189.3,86.1 L190.2,86.1 L191.0,86.1 L191.9,86.2 L192.7,86.2 L193.6,86.3 L194.4,86.3 L195.3,86.3 L196.1,86.4 L197.0,86.4 L197.8,86.4 L198.7,86.5 L199.5,86.5 L200.4,86.5 L201.2,86.6 L202.1,86.6 L202.9,86.6 L203.8,86.6 L204.6,86.6 L205.5,86.6 L206.3,86.6 L207.2,86.6 L208.0,86.6 L208.9,86.6 L209.8,86.5 L210.6,86.5 L211.5,86.5 L212.3,86.4 L213.2,86.4 L214.0,86.4 L214.9,86.3 L215.7,86.3 L216.6,86.2 L217.4,86.2 L218.3,86.2 L219.1,86.2 L220.0,86.1 L220.8,86.1 L221.7,86.1 L222.5,86.1 L223.4,86.1 L224.2,86.1 L225.1,86.1 L225.9,86.1 L226.7,86.2 L227.6,86.2 L228.4,86.3 L229.2,86.3 L230.1,86.4 L230.9,86.5 L231.7,86.5 L232.5,86.7 L233.3,86.8 L234.1,86.9 L234.9,87.0 L235.7,87.2 L236.5,87.4 L237.3,87.6 L238.1,87.8 L238.8,88.0 L239.6,88.2 L240.4,88.5 L241.1,88.7 L241.8,89.0 L242.6,89.3 L243.3,89.7 L244.0,90.0 L244.7,90.4 L245.4,90.8 L246.1,91.2 L246.8,91.6 L247.5,92.1 L248.2,92.5 L248.9,93.0 L249.5,93.5 L250.2,94.0 L250.8,94.5 L251.5,95.0 L252.1,95.6 L252.8,96.1 L253.4,96.7 L254.0,97.3 L254.6,97.9 L255.2,98.5 L255.8,99.1 L256.4,99.7 L257.0,100.3 L257.6,101.0 L258.2,101.6 L258.8,102.2 L259.3,102.9 L259.9,103.5 L260.5,104.2 L261.0,104.8 L261.6,105.5 L262.2,106.1 L262.7,106.8 L263.3,107.5 L263.8,108.1 L264.3,108.8 L264.9,109.5 L265.4,110.1 L266.0,110.8 L266.5,111.5 L267.0,112.1 L267.5,112.8 L268.1,113.5 L268.6,114.2 L269.1,114.8 L269.6,115.5 L270.2,116.2 L270.7,116.8 L271.2,117.5 L271.7,118.2 L272.2,118.9 L272.7,119.5 L273.3,120.2 L273.8,120.9 L274.3,121.5 L274.8,122.2 L275.3,122.9 L275.8,123.5 L276.4,124.2 L276.9,124.9 L277.4,125.5 L277.9,126.2 L278.4,126.8 L279.0,127.5 L279.5,128.2 L280.0,128.8 L280.5,129.5 L281.0,130.1 L281.5,130.8 L282.1,131.4 L282.6,132.1 L283.1,132.8 L283.6,133.4 L284.1,134.1 L284.6,134.8 L285.1,135.4 L285.6,136.1 L286.1,136.8 L286.6,137.4 L287.1,138.1 L287.6,138.8 L288.1,139.4 L288.6,140.1 L289.1,140.8 L289.5,141.5 L290.0,142.1 L290.5,142.8 L290.9,143.5 L291.4,144.2 L291.9,144.9 L292.3,145.6 L292.8,146.3 L293.2,147.0 L293.7,147.7 L294.1,148.4 L294.5,149.1 L295.0,149.8 L295.4,150.5 L295.8,151.2 L296.2,152.0 L296.6,152.7 L297.0,153.4 L297.4,154.1 L297.8,154.9 L298.2,155.6 L298.6,156.4 L299.0,157.1 L299.4,157.9 L299.7,158.6 L300.1,159.4 L300.5,160.1 L300.8,160.9 L301.2,161.7 L301.5,162.4 L301.9,163.2 L302.2,164.0 L302.6,164.7 L302.9,165.5 L303.3,166.3 L303.6,167.0 L303.9,167.8 L304.3,168.6 L304.6,169.4 L304.9,170.2 L305.3,170.9 L305.6,171.7 L305.9,172.5 L306.3,173.3 L306.6,174.0 L306.9,174.8 L307.3,175.6 L307.6,176.4 L308.0,177.1 L308.3,177.9 L308.6,178.7 L309.0,179.5 L309.3,180.2 L309.6,181.0 L310.0,181.8 L310.3,182.5 L310.7,183.3 L311.0,184.1 L311.3,184.9 L311.7,185.6 L312.0,186.4 L312.4,187.2 L312.7,187.9 L313.0,188.7 L313.4,189.5 L313.7,190.2 L314.1,191.0 L314.4,191.8 L314.7,192.5 L315.1,193.3 L315.4,194.1 L315.8,194.8 L316.1,195.6 L316.4,196.4 L316.8,197.1 L317.1,197.9 L317.5,198.7 L317.8,199.4 L318.1,200.2 L318.5,201.0 L318.8,201.7 L319.2,202.5 L319.5,203.3 L319.8,204.0 L320.2,204.8 L320.5,205.6 L320.8,206.3 L321.2,207.1 L321.5,207.9 L321.8,208.7 L322.2,209.4 L322.5,210.2 L322.8,211.0 L323.2,211.7 L323.5,212.5 L323.8,213.3 L324.2,214.0 L324.5,214.8 L324.8,215.6 L325.1,216.4 L325.5,217.1 L325.8,217.9 L326.1,218.7 L326.4,219.4 L326.8,220.2 L327.1,221.0 L327.4,221.8 L327.7,222.5 L328.0,223.3 L328.3,224.1 L328.7,224.9 L329.0,225.7 L329.3,226.4 L329.6,227.2 L329.9,228.0 L330.2,228.8 L330.5,229.6 L330.8,230.4 L331.1,231.1 L331.4,231.9 L331.7,232.7 L332.0,233.5 L332.4,234.3 L332.7,235.1 L333.0,235.8 L333.3,236.6 L333.6,237.4 L333.9,238.2 L334.2,239.0 L334.5,239.8 L334.8,240.6 L335.1,241.3 L335.4,242.1 L335.7,242.9 L336.0,243.7 L336.3,244.5 L336.7,245.2 L337.0,246.0 L337.3,246.8 L337.6,247.6 L338.0,248.3 L338.3,249.1 L338.7,249.8 L339.0,250.6 L339.4,251.4 L339.7,252.1 L340.1,252.9 L340.4,253.6 L340.8,254.4 L341.2,255.1 L341.5,255.9 L341.9,256.6 L342.3,257.3 L342.7,258.1" fill="none" stroke="#947278" stroke-width="1.6" stroke-linejoin="round"/>
<path d="M326,257.9 H356.5" stroke="#4a7050" stroke-width="1.3"/>
<path d="M71,257.9 H231 M356.5,257.9 H372" stroke="#2a2a80" stroke-width="1.4"/>
<path d="M206,257.9 H221" stroke="#7a3a50" stroke-width="1.3"/>
<path d="M74.8,117.2 L83.6,115.1 L91,113.2 L98.5,111 L105,109 L111.5,107.3" fill="none" stroke="#947278" stroke-width="1.4" stroke-dasharray="3.8 3.4"/>
<circle cx="71.09" cy="102.1" r="2.5" fill="#000"/>
<circle cx="86.11" cy="105.4" r="2.5" fill="#000"/>
<circle cx="101.13" cy="108.2" r="2.5" fill="#000"/>
<circle cx="116.15" cy="108.1" r="2.5" fill="#000"/>
<circle cx="131.17" cy="101.8" r="2.5" fill="#000"/>
<circle cx="146.19" cy="96.4" r="2.5" fill="#000"/>
<circle cx="161.21" cy="91.4" r="2.5" fill="#000"/>
<circle cx="176.23" cy="87.4" r="2.5" fill="#000"/>
<circle cx="191.25" cy="87.1" r="2.5" fill="#000"/>
<circle cx="206.27" cy="85.5" r="2.5" fill="#000"/>
<circle cx="221.29" cy="89.5" r="2.5" fill="#000"/>
<circle cx="236.31" cy="89.3" r="2.5" fill="#000"/>
<path d="M251.33,89 V94" stroke="#808080" stroke-width="1.05" fill="none"/>
<path d="M250.33,88.20 h2 v1.6 h-2 Z M250.33,93.20 h2 v1.6 h-2 Z" fill="#222"/>
<circle cx="251.33" cy="91.5" r="2.5" fill="#000"/>
<path d="M266.35,109.6 V118.2" stroke="#808080" stroke-width="1.05" fill="none"/>
<path d="M265.35,108.80 h2 v1.6 h-2 Z M265.35,117.40 h2 v1.6 h-2 Z" fill="#222"/>
<circle cx="266.35" cy="113.8" r="2.5" fill="#000"/>
<path d="M281.37,116.5 V128.7" stroke="#808080" stroke-width="1.05" fill="none"/>
<path d="M280.37,115.70 h2 v1.6 h-2 Z M280.37,127.90 h2 v1.6 h-2 Z" fill="#222"/>
<circle cx="281.37" cy="122.7" r="2.5" fill="#000"/>
<path d="M296.39,151.3 V173.5" stroke="#808080" stroke-width="1.05" fill="none"/>
<path d="M295.39,150.50 h2 v1.6 h-2 Z M295.39,172.70 h2 v1.6 h-2 Z" fill="#222"/>
<circle cx="296.39" cy="162.5" r="2.5" fill="#000"/>
<path d="M311.41,169.6 V208.3" stroke="#808080" stroke-width="1.05" fill="none"/>
<path d="M310.41,168.80 h2 v1.6 h-2 Z M310.41,207.50 h2 v1.6 h-2 Z" fill="#222"/>
<circle cx="311.41" cy="188.7" r="2.5" fill="#000"/>
<path d="M326.43,162.4 V211.3" stroke="#808080" stroke-width="1.05" fill="none"/>
<path d="M325.43,161.60 h2 v1.6 h-2 Z M325.43,210.50 h2 v1.6 h-2 Z" fill="#222"/>
<circle cx="326.43" cy="185.8" r="2.5" fill="#000"/>
<path d="M336.45,208.2 H346.45 M341.45,208.2 V224" stroke="#606060" stroke-width="1.05" fill="none"/>
<path d="M338.55,223.5 L344.35,223.5 L341.45,229 Z" fill="#000"/>
<path d="M351.47,184.6 H361.47 M356.47,184.6 V200.5" stroke="#606060" stroke-width="1.05" fill="none"/>
<path d="M353.57,200.0 L359.37,200.0 L356.47,205.5 Z" fill="#000"/>
<line x1="292.9" y1="42.80" x2="312.7" y2="42.80" stroke="#947278" stroke-width="1.35"/>
<line x1="292.9" y1="56.90" x2="312.7" y2="56.90" stroke="#dc3440" stroke-width="1.35"/>
<line x1="292.9" y1="71.00" x2="312.7" y2="71.00" stroke="#3a3a3a" stroke-width="1.35"/>
<line x1="292.9" y1="85.10" x2="312.7" y2="85.10" stroke="#38d040" stroke-width="1.35"/>
<line x1="292.9" y1="99.20" x2="312.7" y2="99.20" stroke="#30b4c4" stroke-width="1.35"/>
<line x1="292.9" y1="113.30" x2="312.7" y2="113.30" stroke="#2c2ca8" stroke-width="1.35"/>
<text x="316.2" y="46.6" font-size="10.7" letter-spacing="-0.1">Total</text>
<text y="60" font-size="10.5"><tspan x="316.6" font-style="italic">A</tspan><tspan x="325.2">=</tspan><tspan x="333.3">1</tspan></text>
<text y="74.9" font-size="10.5"><tspan x="316.40">2</tspan><tspan x="324.50" font-size="8.6">≤</tspan><tspan x="333.80" font-style="italic">A</tspan><tspan x="343.30" font-size="8.6">≤</tspan><tspan x="349.70">4</tspan></text>
<text y="88.9" font-size="10.5"><tspan x="316.40">5</tspan><tspan x="324.50" font-size="8.6">≤</tspan><tspan x="333.70" font-style="italic">A</tspan><tspan x="343.00" font-size="8.6">≤</tspan><tspan x="349.70">22</tspan></text>
<text y="102.9" font-size="10.5"><tspan x="316.60">23</tspan><tspan x="329.50" font-size="8.6">≤</tspan><tspan x="338.30" font-style="italic">A</tspan><tspan x="347.80" font-size="8.6">≤</tspan><tspan x="355.50">38</tspan></text>
<text y="116.6" font-size="10.5"><tspan x="316.60">39</tspan><tspan x="329.60" font-size="8.6">≤</tspan><tspan x="338.30" font-style="italic">A</tspan><tspan x="347.90" font-size="8.6">≤</tspan><tspan x="355.80">56</tspan></text>
<text x="78.60" y="271.7" font-size="11.5" text-anchor="middle" letter-spacing="-0.35">18.5</text>
<text x="153.70" y="271.7" font-size="11.5" text-anchor="middle" letter-spacing="-0.35">19.0</text>
<text x="228.80" y="271.7" font-size="11.5" text-anchor="middle" letter-spacing="-0.35">19.5</text>
<text x="303.90" y="271.7" font-size="11.5" text-anchor="middle" letter-spacing="-0.35">20.0</text>
<text x="379.00" y="271.7" font-size="11.5" text-anchor="middle" letter-spacing="-0.35">20.5</text>
<text x="39.0" y="65.0" font-size="11.6" letter-spacing="-0.35">10<tspan font-size="7.2" dy="-5.0">38</tspan></text>
<text x="39.0" y="182.2" font-size="11.6" letter-spacing="-0.35">10<tspan font-size="7.2" dy="-5.0">37</tspan></text>
<text y="282" font-size="11" letter-spacing="0"><tspan x="195.4">log</tspan><tspan x="210.0" font-size="7.8" letter-spacing="-0.2" dy="5.8">10</tspan><tspan x="217.8" dy="-5.8">(E/eV)</tspan></text>
<text transform="translate(28.2,191) rotate(-90)" font-size="11" word-spacing="1">E<tspan font-size="7" dy="-5.6">3</tspan><tspan dy="5.6">J [eV</tspan><tspan font-size="7" dy="-5.6">2</tspan><tspan dy="5.6"> km</tspan><tspan font-size="7" dy="-5.6">-2</tspan><tspan dy="5.6"> sr</tspan><tspan font-size="7" dy="-5.6">-1</tspan><tspan dy="5.6"> yr</tspan><tspan font-size="7" dy="-5.6">-1</tspan><tspan dy="5.6">]</tspan></text>
<text x="63.5" y="15.9" font-size="10" letter-spacing="-0.36" word-spacing="0.9">A.Aab et al. (The Pierre Auger Collaboration), Phys. Rev. Lett. 125, 121106 (2020)</text>
</svg></body></html>
